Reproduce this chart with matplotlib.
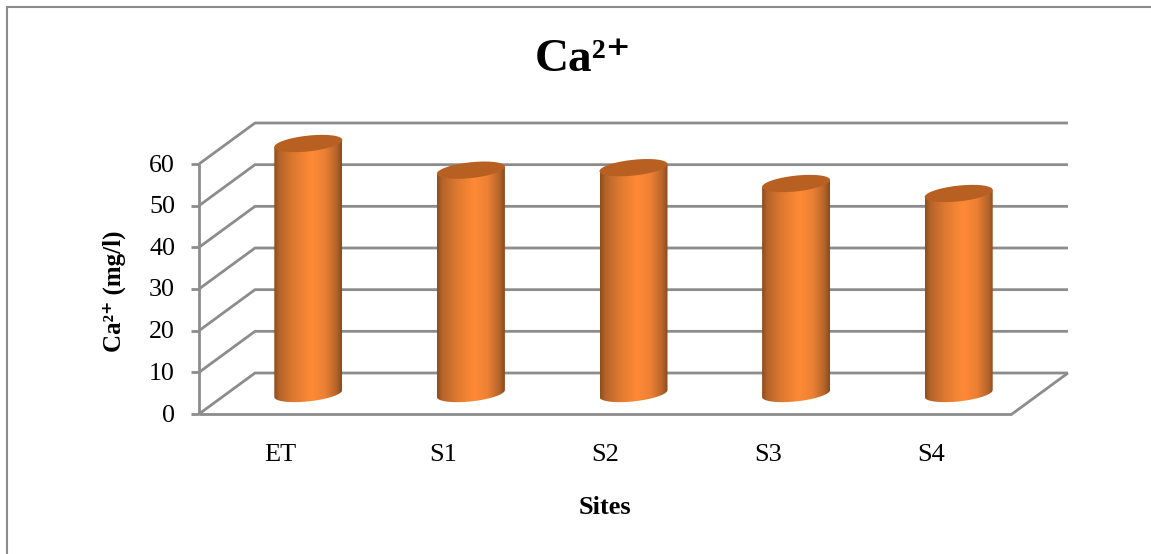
#!/usr/bin/env python

import numpy as np
import matplotlib
matplotlib.use('Agg')
import matplotlib.pyplot as plt
from matplotlib.colors import LinearSegmentedColormap
from matplotlib.patches import Polygon

plt.rcParams['font.family'] = ['Liberation Serif', 'DejaVu Serif']

sites = ['ET', 'S1', 'S2', 'S3', 'S4']
calcium = [60.0, 53.6, 54.2, 50.4, 48.0]
yticks = [0, 10, 20, 30, 40, 50, 60]

W, H = 1151, 554
fig = plt.figure(figsize=(W / 100, H / 100), dpi=100)

# front plane of the box, in figure pixels
left, right, bottom, top = 199, 1012, 414, 164

# pixels to data units, used for the oblique depth of the box
ux = len(sites) / (right - left)
uy = 60 / (bottom - top)
depth_x = 56 * ux
depth_y = 41 * uy

# axes fills the figure so the cylinders are not cut at the plot box
ax = fig.add_axes([0, 0, 1, 1])
xlim = (-left * ux, (W - left) * ux)
ylim = ((bottom - H) * uy, bottom * uy)
grid = '#8c8c8c'


def line(xs, ys):
    ax.plot(xs, ys, color=grid, lw=2.0, solid_capstyle='butt', zorder=2)


# walls and floor
for v in yticks:
    line([0, depth_x, len(sites) + depth_x], [v, v + depth_y, v + depth_y])
    line([-8 * ux, 0], [v, v])
line([0, 0], [0, 60])
line([0, len(sites)], [0, 0])
line([len(sites), len(sites) + depth_x], [0, depth_y])

cmap = LinearSegmentedColormap.from_list(
    'bar', [(0, '#8e4d1c'), (0.08, '#b5642a'), (0.3, '#e07a30'), (0.55, '#ff8a36'),
            (0.75, '#ec8034'), (0.92, '#b5642a'), (1, '#8a4a1b')])
shade = np.linspace(0, 1, 256).reshape(1, -1)

t = np.linspace(0, 2 * np.pi, 200)
half_w = 34 * ux
for i, value in enumerate(calcium):
    cx = i + 0.5 + depth_x / 2
    base = depth_y / 2
    ex = half_w * np.cos(t)
    ey = (3.5 * np.cos(t) + 7.9 * np.sin(t)) * uy

    # body outline: bottom half of the base ellipse, then up to the top ellipse
    lower = (np.sin(t) <= 0)
    order = np.argsort(ex[lower])
    bx = cx + ex[lower][order]
    by = base + ey[lower][order]
    body = np.column_stack([
        np.r_[bx, cx + half_w, cx - half_w],
        np.r_[by, value + base + 3.5 * uy, value + base - 3.5 * uy],
    ])
    patch = Polygon(body, closed=True, transform=ax.transData, facecolor='none', edgecolor='none')
    ax.add_patch(patch)
    im = ax.imshow(shade, cmap=cmap, aspect='auto', zorder=3,
                   extent=[cx - half_w, cx + half_w, 0, 70])
    im.set_clip_path(patch)

    ax.fill(cx + ex, value + base + ey, color='#b86022', lw=0, zorder=4)

ax.set_xlim(xlim)
ax.set_ylim(ylim)
ax.axis('off')

for v in yticks:
    ax.text(-24 * ux, v - 1.5 * uy, str(v), ha='right', va='center', fontsize=18.7, color='black')
for i, name in enumerate(sites):
    ax.text(i + 0.5, -41 * uy, name, ha='center', va='center', fontsize=19, color='black')

fig.text(605 / W, 1 - 507 / H, 'Sites', ha='center', va='center', fontsize=19, fontweight='bold')
fig.text(114.5 / W, 1 - 291 / H, 'Ca²⁺ (mg/l)', ha='center', va='center', rotation=90,
         fontsize=18, fontweight='bold')
fig.text(583 / W, 1 - 60 / H, 'Ca²⁺', ha='center', va='center', fontsize=34, fontweight='bold')

# outer frame shows only on the top and left
fig.add_artist(plt.Line2D([7 / W, 7 / W], [0, 1 - 7 / H], color=grid, lw=1.5))
fig.add_artist(plt.Line2D([7 / W, 1], [1 - 7 / H, 1 - 7 / H], color=grid, lw=1.5))

plt.savefig('out.png', dpi=100)
